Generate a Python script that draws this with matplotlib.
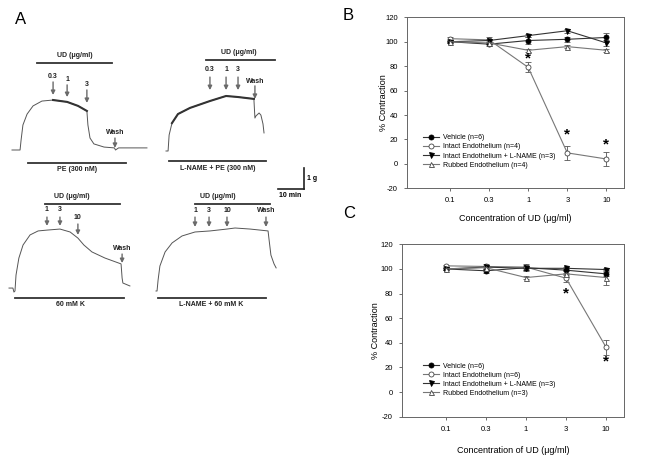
import matplotlib.pyplot as plt

plt.rcParams['font.family'] = ['Liberation Sans', 'DejaVu Sans']
plt.rcParams['axes.unicode_minus'] = False

# ---- panel A: tension traces (minutes, grams) ----
pe_t = [0, 3.1, 3.5, 4.2, 5.8, 8.1, 11.5, 15.8, 21.2, 25.4, 28.8, 29.2, 30, 31.5, 35.4, 39.4, 39.8, 41, 51.9]
pe_g = [0, 0, 0.48, 1.19, 1.71, 2.1, 2.33, 2.38, 2.29, 2.1, 1.86, 1.19, 0.57, 0.29, 0.14, 0.1, 0.0, 0.1, 0.1]

lpe_t = [0, 0.8, 1.2, 2.3, 4.6, 9.2, 16.9, 23.1, 27.7, 33.8, 34.2, 34.6, 35.8, 36.5, 37.3, 37.7]
lpe_g = [0, 0, 0.76, 1.33, 1.76, 2.05, 2.38, 2.62, 2.57, 2.48, 1.57, 1.67, 1.81, 1.71, 1.29, 0.86]

k_t = [0, 1.5, 1.9, 2.3, 2.7, 3.8, 5.4, 8.1, 11.2, 14.6, 19.6, 23.5, 26.5, 28.8, 31.9, 36.9, 43.1, 43.5, 43.8, 46.5]
k_g = [0.14, 0.14, -0.05, 0, 0.76, 1.57, 2.19, 2.67, 2.86, 2.9, 2.95, 2.81, 2.52, 2.19, 1.86, 1.57, 1.29, 0.62, 0.38, 0.24]

lk_t = [0, 0.4, 0.8, 1.5, 3.5, 6.2, 10, 15, 20.8, 27.3, 30.4, 36.2, 43.1, 43.5, 44.2, 45.4, 46.2]
lk_g = [0, 0, 0.52, 1.19, 1.86, 2.29, 2.62, 2.81, 2.86, 2.95, 3.0, 2.95, 2.86, 2.43, 1.71, 1.29, 1.1]

# ---- panels B and C ----
conc = ['0.1', '0.3', '1', '3', '10']
labels_b = ['Vehicle (n=6)', 'Intact Endothelium (n=4)',
            'Intact Endothelium + L-NAME (n=3)', 'Rubbed Endothelium (n=4)']
labels_c = ['Vehicle (n=6)', 'Intact Endothelium (n=6)',
            'Intact Endothelium + L-NAME (n=3)', 'Rubbed Endothelium (n=3)']

b_vehicle = [100, 98, 101, 102, 103.5]
b_intact = [102.5, 101.5, 79, 9, 4]
b_lname = [100, 101, 105, 109, 99]
b_rubbed = [100, 99, 93, 96, 93]
b_vehicle_err = [1, 1.5, 3, 2, 4]
b_intact_err = [1, 2.5, 4, 5.5, 5.5]
b_lname_err = [1, 1, 1.5, 1.5, 2.5]
b_rubbed_err = [0.5, 1, 1, 1, 1]
b_star_x = [2, 3, 4]
b_star_y = [86, 24, 16]

c_vehicle = [100, 98.5, 101, 99, 96]
c_intact = [102.5, 102, 101.5, 92.5, 36.5]
c_lname = [100, 101.5, 100.5, 100.5, 99.5]
c_rubbed = [100, 101, 93, 96, 93]
c_vehicle_err = [1, 1.5, 1.5, 1, 1.5]
c_intact_err = [1, 2, 2.5, 3, 6]
c_lname_err = [1, 1, 2.5, 1, 1]
c_rubbed_err = [1, 1, 1, 1, 6]
c_star_x = [3, 4]
c_star_y = [80, 25]

W, H = 657, 457
fig = plt.figure(figsize=(W / 100, H / 100), dpi=100)

PX_MIN = 2.6   # px per minute
PX_G = 21.0    # px per gram


def trace_ax(x0, y0):
    ax = fig.add_axes([(x0 - 10) / W, (H - (y0 + 30)) / H, 160 / W, 160 / H])
    ax.set_xlim(-10 / PX_MIN, 150 / PX_MIN)
    ax.set_ylim(-30 / PX_G, 130 / PX_G)
    ax.axis('off')
    return ax


def arrow(ax, t, y0, y1):
    ax.annotate('', xy=(t, y1), xytext=(t, y0),
                arrowprops=dict(arrowstyle='-|>', color='#6a6a6a', lw=1.0,
                                mutation_scale=6, shrinkA=0, shrinkB=0))


def decorate(ax, ud_x, ud_y, bar, bar_y, doses, bottom_label, bot_x, bot_bar, bot_y):
    tkw = dict(fontsize=5, fontweight='bold', ha='center', va='center', color='#222')
    ax.text(ud_x, ud_y, 'UD (\u03bcg/ml)', **tkw)
    ax.plot(bar, [bar_y, bar_y], color='#333', lw=1.3, clip_on=False)
    for t, lab, ly, a0, a1 in doses:
        ax.text(t, ly, lab, **tkw)
        arrow(ax, t, a0, a1)
    ax.plot(bot_bar, [bot_y, bot_y], color='#333', lw=1.3, clip_on=False)
    ax.text(bot_x, bot_y - 0.33, bottom_label, **tkw)


# trace 1: PE
ax1 = trace_ax(12, 150)
ax1.plot(pe_t, pe_g, color='#555', lw=0.7, clip_on=False)
ax1.plot(pe_t[7:11], pe_g[7:11], color='#333', lw=1.5, clip_on=False)
decorate(ax1, 24.2, 4.48, [9.6, 38.5], 4.14,
         [(15.8, '0.3', 3.52, 3.24, 2.62), (21.2, '1', 3.38, 3.1, 2.52),
          (28.8, '3', 3.14, 2.86, 2.24), (39.6, 'Wash', 0.81, 0.57, 0.1)],
         'PE (300 nM)', 25, [6.2, 43.8], -0.62)

# trace 2: L-NAME + PE
ax2 = trace_ax(166, 151)
ax2.plot(lpe_t, lpe_g, color='#555', lw=0.7, clip_on=False)
ax2.plot(lpe_t[3:10], lpe_g[3:10], color='#333', lw=1.5, clip_on=False)
decorate(ax2, 28.1, 4.67, [15.4, 41.9], 4.33,
         [(16.9, '0.3', 3.9, 3.52, 2.9), (23.1, '1', 3.9, 3.52, 2.9),
          (27.7, '3', 3.9, 3.52, 2.9), (34.2, 'Wash', 3.33, 3.1, 2.48)],
         'L-NAME + PE (300 nM)', 20, [1.2, 38.5], -0.48)
# scale bar
ax2.plot([53.1, 53.1], [-0.81, -1.81], color='#222', lw=1.2, clip_on=False)
ax2.plot([43.1, 53.1], [-1.81, -1.81], color='#222', lw=1.2, clip_on=False)
ax2.text(56.0, -1.33, '1 g', fontsize=5, fontweight='bold', ha='center', va='center')
ax2.text(47.7, -2.12, '10 min', fontsize=5, fontweight='bold', ha='center', va='center')

# trace 3: 60 mM K
ax3 = trace_ax(9, 291)
ax3.plot(k_t, k_g, color='#555', lw=0.7, clip_on=False)
decorate(ax3, 24.2, 4.52, [13.8, 42.7], 4.14,
         [(14.6, '1', 3.86, 3.52, 3.1), (19.6, '3', 3.86, 3.52, 3.1),
          (26.5, '10', 3.52, 3.19, 2.67), (43.5, 'Wash', 2.0, 1.76, 1.33)],
         '60 mM K', 23.5, [2.3, 44.2], -0.33)

# trace 4: L-NAME + 60 mM K
ax4 = trace_ax(156, 291)
ax4.plot(lk_t, lk_g, color='#555', lw=0.7, clip_on=False)
decorate(ax4, 23.8, 4.52, [15, 43.8], 4.14,
         [(15, '1', 3.81, 3.52, 3.05), (20.4, '3', 3.81, 3.52, 3.05),
          (27.3, '10', 3.81, 3.52, 3.05), (42.3, 'Wash', 3.81, 3.52, 3.05)],
         'L-NAME + 60 mM K', 21.2, [0.8, 42.3], -0.33)

fig.text(15 / W, 1 - 20 / H, 'A', fontsize=12, ha='left', va='center')
fig.text(343 / W, 1 - 15 / H, 'B', fontsize=12, ha='left', va='center')
fig.text(343 / W, 1 - 213 / H, 'C', fontsize=12, ha='left', va='center')


def dose_panel(rect, series, errs, labels, star_x, star_y, ylab_x, xlab_y, leg_xy):
    ax = fig.add_axes(rect)
    x = list(range(len(conc)))
    styles = [dict(marker='o', mfc='black', mec='black', color='#333'),
              dict(marker='o', mfc='white', mec='#444', color='#777'),
              dict(marker='v', mfc='black', mec='black', color='#333'),
              dict(marker='^', mfc='white', mec='#444', color='#777')]
    handles = []
    for ys, es, st, lab in zip(series, errs, styles, labels):
        ax.errorbar(x, ys, yerr=es, fmt='none', ecolor='#555', elinewidth=0.6,
                    capsize=2, capthick=0.6, zorder=2)
        ln, = ax.plot(x, ys, lw=0.8, ms=3.6, mew=0.6, label=lab, zorder=3, **st)
        handles.append(ln)
    for sx, sy in zip(star_x, star_y):
        ax.text(sx, sy, '*', fontsize=11, fontweight='bold', ha='center', va='center')
    ax.set_xlim(-1.1, 4.45)
    ax.set_ylim(-20, 120)
    ax.set_xticks(x)
    ax.set_xticklabels(conc)
    ax.set_yticks(range(-20, 121, 20))
    ax.tick_params(labelsize=5.5, length=2.5, width=0.6, color='#555', pad=4)
    for s in ax.spines.values():
        s.set_color('#666')
        s.set_linewidth(0.7)
    ax.set_xlabel('Concentration of UD (\u03bcg/ml)', fontsize=6.5)
    ax.set_ylabel('% Contraction', fontsize=6.5)
    ax.xaxis.set_label_coords(0.5, xlab_y)
    ax.yaxis.set_label_coords(ylab_x, 0.5)
    ax.legend(handles=handles, loc='lower left', bbox_to_anchor=leg_xy,
              frameon=False, fontsize=5, handlelength=2.3, labelspacing=0.3,
              borderpad=0, borderaxespad=0, handletextpad=0.6)
    return ax


dose_panel([407 / W, (H - 188.3) / H, 217 / W, 171 / H],
           [b_vehicle, b_intact, b_lname, b_rubbed],
           [b_vehicle_err, b_intact_err, b_lname_err, b_rubbed_err],
           labels_b, b_star_x, b_star_y, -0.088, -0.15, (0.074, 0.115))
dose_panel([402 / W, (H - 416.7) / H, 222 / W, 172.4 / H],
           [c_vehicle, c_intact, c_lname, c_rubbed],
           [c_vehicle_err, c_intact_err, c_lname_err, c_rubbed_err],
           labels_c, c_star_x, c_star_y, -0.1, -0.17, (0.095, 0.115))

fig.savefig('out.png', dpi=100)
